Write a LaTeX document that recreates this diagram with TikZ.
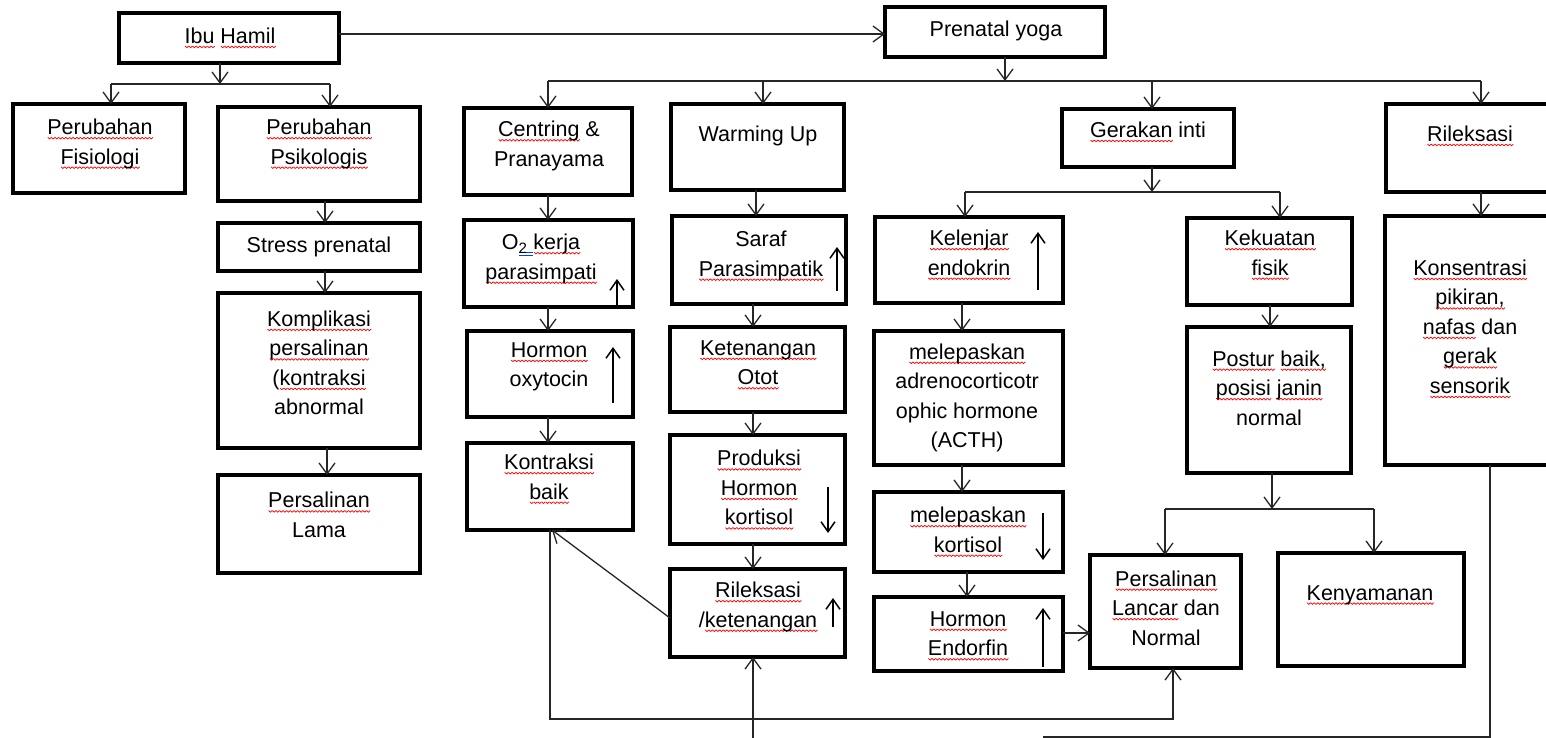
\documentclass[tikz,border=0pt]{standalone}
\usepackage{fontspec}
\setmainfont{Liberation Sans}
\usetikzlibrary{arrows.meta}
\newbox\rwbox
\newbox\wavebox
\newcommand\rw[1]{\setbox\rwbox\hbox{#1}\rlap{\lower4.6pt\hbox to\wd\rwbox{\xleaders\copy\wavebox\hfill}}\box\rwbox}
\newcommand\bw[1]{\setbox\rwbox\hbox{#1}\rlap{\textcolor{blue!75!cyan}{\lower3.2pt\hbox{\vrule width\wd\rwbox height 0.8pt}}}\rlap{\textcolor{blue!75!cyan}{\lower5.6pt\hbox{\vrule width\wd\rwbox height 0.8pt}}}\box\rwbox}
\tikzset{
  bx/.style={draw, line width=3.2pt, inner sep=0pt, outer sep=0pt},
  tx/.style={align=center, inner sep=0pt, font=\fontsize{21.5}{29.5}\selectfont},
  ln/.style={line width=1.3pt, draw=black!85},
  ar/.style={ln, -{Straight Barb[length=11pt,width=16pt]}},
  ind/.style={line width=1.5pt, -{Straight Barb[length=10pt,width=14pt]}}
}
\newcommand\B[5]{\path node[bx, minimum width={(#4-#2)*1pt}, minimum height={(#5-#3)*1pt}] (#1) at ({(#2+#4)/2},{(#3+#5)/2}) {};}
\begin{document}
\setbox\wavebox\hbox to 3.6pt{\pgfpicture\pgfsetlinewidth{0.75pt}\pgfsetstrokecolor{red}\pgfpathmoveto{\pgfpoint{0pt}{1.6pt}}\pgfpathlineto{\pgfpoint{1.8pt}{0pt}}\pgfpathlineto{\pgfpoint{3.6pt}{1.6pt}}\pgfusepath{stroke}\endpgfpicture\hss}%
\begin{tikzpicture}[x=1pt,y=-1pt]
\useasboundingbox (0,0) rectangle (1546,738);
% boxes
\B{ibu}{119}{13}{339}{63}
\B{yoga}{885}{7}{1105}{57}
\B{fis}{13}{104}{185}{193}
\B{psi}{218}{107}{420}{201}
\B{stress}{218}{223}{420}{271}
\B{komp}{218}{293}{420}{448}
\B{lama}{218}{475}{420}{573}
\B{cent}{464}{108}{632}{195}
\B{otwo}{464}{220}{633}{307}
\B{oxy}{467}{331}{633}{417}
\B{kontr}{467}{443}{633}{530}
\B{warm}{671}{104}{844}{190}
\B{saraf}{672}{216}{846}{304}
\B{keten}{670}{327}{845}{412}
\B{prod}{670}{435}{845}{544}
\B{ril}{670}{569}{845}{657}
\B{ger}{1062}{109}{1234}{167}
\B{kel}{875}{217}{1063}{303}
\B{acth}{874}{331}{1063}{465}
\B{kort}{874}{492}{1063}{572}
\B{endo}{874}{597}{1063}{671}
\B{kek}{1187}{218}{1352}{305}
\B{post}{1187}{327}{1351}{473}
\B{lancar}{1090}{555}{1241}{668}
\B{keny}{1278}{553}{1464}{666}
\B{rilx}{1386}{104}{1560}{192}
\B{kons}{1385}{216}{1560}{465}
% texts
\node[tx] (t-ibu) at (230,38) {\rw{Ibu} \rw{Hamil}};
\node[tx] (t-yoga) at (996,31) {Prenatal yoga};
\node[tx] (t-fis) at (100,144) {\rw{Perubahan}\\\rw{Fisiologi}};
\node[tx] (t-psi) at (319,144) {\rw{Perubahan}\\\rw{Psikologis}};
\node[tx] (t-stress) at (319,247) {Stress prenatal};
\node[tx] (t-komp) at (319,363) {\rw{Komplikasi}\\\rw{persalinan}\\(\rw{kontraksi}\\abnormal};
\node[tx] (t-lama) at (319,515) {\rw{Persalinan}\\Lama};
\node[tx] (t-cent) at (549,146) {\rw{Centring} \&\\Pranayama};
\node[tx] (t-otwo) at (541,259) {O\bw{\textsubscript{2}\ }\rw{kerja}\\\rw{parasimpati}};
\node[tx] (t-oxy) at (549,367) {\rw{Hormon}\\oxytocin};
\node[tx] (t-kontr) at (549,479) {\rw{Kontraksi}\\\rw{baik}};
\node[tx] (t-warm) at (758,136) {Warming Up};
\node[tx] (t-saraf) at (761,256) {Saraf\\\rw{Parasimpatik}};
\node[tx] (t-keten) at (758,365) {\rw{Ketenangan}\\\rw{Otot}};
\node[tx] (t-prod) at (759,490) {\rw{Produksi}\\\rw{Hormon}\\\rw{kortisol}};
\node[tx] (t-ril) at (758,607) {\rw{Rileksasi}\\/\rw{ketenangan}};
\node[tx] (t-ger) at (1148,132) {\rw{Gerakan} inti};
\node[tx] (t-kel) at (969,255) {\rw{Kelenjar}\\\rw{endokrin}};
\node[tx] (t-acth) at (967,398) {\rw{melepaskan}\\adrenocorticotr\\ophic hormone\\(ACTH)};
\node[tx] (t-kort) at (968,532) {\rw{melepaskan}\\\rw{kortisol}};
\node[tx] (t-endo) at (968,636) {\rw{Hormon}\\\rw{Endorfin}};
\node[tx] (t-kek) at (1270,255) {\rw{Kekuatan}\\\rw{fisik}};
\node[tx] (t-post) at (1269,388) {\rw{Postur} \rw{baik,}\\\rw{posisi} \rw{janin}\\normal};
\node[tx] (t-lancar) at (1166,608) {\rw{Persalinan}\\\rw{Lancar} dan\\Normal};
\node[tx] (t-keny) at (1370,595) {\rw{Kenyamanan}};
\node[tx] (t-rilx) at (1470,136) {\rw{Rileksasi}};
\node[tx] (t-kons) at (1470,329) {\rw{Konsentrasi}\\\rw{pikiran,}\\\rw{nafas} dan\\\rw{gerak}\\\rw{sensorik}};
% connectors: left tree
\draw[ar] (ibu.east |- 0,34) -- (yoga.west |- 0,34);
\draw[ar] (220,0 |- ibu.south) -- (220,84);
\draw[ln] (111,84) -- (330,84);
\draw[ar] (111,84) -- (111,0 |- fis.north);
\draw[ar] (330,84) -- (330,0 |- psi.north);
\draw[ar] (325,0 |- psi.south) -- (325,0 |- stress.north);
\draw[ar] (325,0 |- stress.south) -- (325,0 |- komp.north);
\draw[ar] (327,0 |- komp.south) -- (327,0 |- lama.north);
% prenatal yoga tree
\draw[ar] (1005,0 |- yoga.south) -- (1005,81);
\draw[ln] (548,81) -- (1481,81);
\draw[ar] (548,81) -- (548,0 |- cent.north);
\draw[ar] (763,81) -- (763,0 |- warm.north);
\draw[ar] (1152,81) -- (1152,0 |- ger.north);
\draw[ar] (1481,81) -- (1481,0 |- rilx.north);
% centring column
\draw[ar] (548,0 |- cent.south) -- (548,0 |- otwo.north);
\draw[ar] (548,0 |- otwo.south) -- (548,0 |- oxy.north);
\draw[ar] (548,0 |- oxy.south) -- (548,0 |- kontr.north);
% warming column
\draw[ar] (756,0 |- warm.south) -- (756,0 |- saraf.north);
\draw[ar] (753,0 |- saraf.south) -- (753,0 |- keten.north);
\draw[ar] (753,0 |- keten.south) -- (753,0 |- prod.north);
\draw[ar] (753,0 |- prod.south) -- (753,0 |- ril.north);
% gerakan inti
\draw[ar] (1152,0 |- ger.south) -- (1152,192);
\draw[ln] (965,192) -- (1280,192);
\draw[ar] (965,192) -- (965,0 |- kel.north);
\draw[ar] (1280,192) -- (1280,0 |- kek.north);
\draw[ar] (962,0 |- kel.south) -- (962,0 |- acth.north);
\draw[ar] (962,0 |- acth.south) -- (962,0 |- kort.north);
\draw[ar] (967,0 |- kort.south) -- (967,0 |- endo.north);
\draw[ar] (endo.east |- 0,633) -- (lancar.west |- 0,633);
\draw[ar] (1270,0 |- kek.south) -- (1270,0 |- post.north);
\draw[ar] (1272,0 |- post.south) -- (1272,509);
\draw[ln] (1165,509) -- (1374,509);
\draw[ar] (1165,509) -- (1165,0 |- lancar.north);
\draw[ar] (1374,509) -- (1374,0 |- keny.north);
% rileksasi
\draw[ar] (1481,0 |- rilx.south) -- (1481,0 |- kons.north);
% feedback connectors
\draw[ar] (ril.west |- 0,618) -- (552,0 |- kontr.south);
\draw[ar] (550,0 |- kontr.south) -- (550,719) -- (1173,719) -- (1173,0 |- lancar.south);
\coordinate (kend) at (1043,737);
\draw[ln] (1490,0 |- kons.south) -- (1490,737) -- (kend);
\coordinate (rbot) at (753,745);
\draw[ar] (rbot) -- (753,0 |- ril.south);
% indicator arrows
\draw[ind] (617,306) -- (617,279);
\draw[ind] (837,291) -- (837,247);
\draw[ind] (1038,290) -- (1038,232);
\draw[ind] (613,403) -- (613,347);
\draw[ind] (828,487) -- (828,533);
\draw[ind] (833,627) -- (833,598);
\draw[ind] (1043,513) -- (1043,560);
\draw[ind] (1043,667) -- (1043,608);
\end{tikzpicture}
\end{document}
